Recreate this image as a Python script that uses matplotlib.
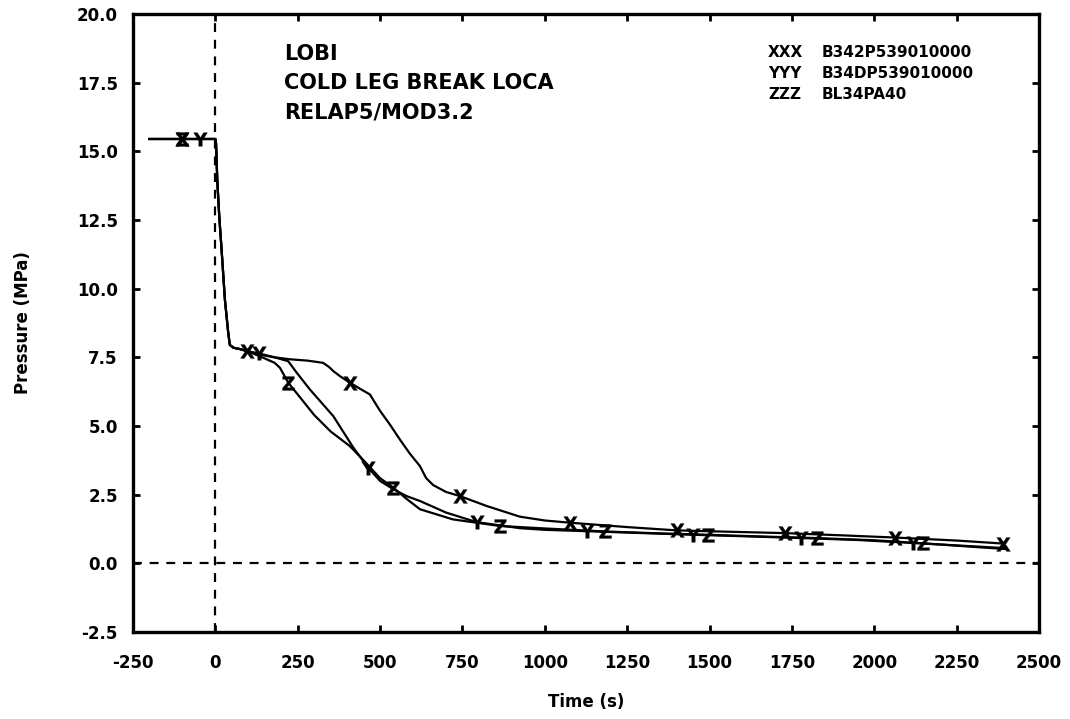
import numpy as np
import matplotlib
matplotlib.use('Agg')
import matplotlib.pyplot as plt

plt.rcParams['font.family'] = ['DejaVu Sans']
plt.rcParams['font.weight'] = 'bold'
plt.rcParams['axes.unicode_minus'] = False

# time (s) / pressure (MPa) for the three pressure signals
t_x = [-200, -102, 0, 2, 6, 12, 19, 29, 39, 44, 55, 75, 95, 133, 180, 226, 280, 327, 345, 358,
       380, 408, 440, 469, 500, 530, 560, 590, 621, 640, 661, 700, 742, 823, 924, 1000, 1076,
       1250, 1400, 1560, 1729, 1900, 2062, 2250, 2391]
p_x = [15.45, 15.45, 15.45, 15.3, 13.9, 12.6, 11.4, 9.6, 8.4, 7.95, 7.85, 7.8, 7.73, 7.6, 7.5,
       7.43, 7.38, 7.3, 7.15, 7.0, 6.8, 6.58, 6.35, 6.15, 5.55, 5.05, 4.51, 4.0, 3.54, 3.1, 2.85,
       2.6, 2.45, 2.09, 1.7, 1.56, 1.48, 1.32, 1.2, 1.15, 1.1, 1.02, 0.94, 0.83, 0.72]

t_y = [-200, -47, 0, 2, 6, 12, 19, 29, 39, 44, 55, 75, 95, 133, 180, 221, 247, 287, 358, 419,
       464, 500, 540, 580, 621, 700, 793, 924, 1000, 1127, 1300, 1450, 1620, 1779, 1950, 2118,
       2300, 2400]
p_y = [15.45, 15.45, 15.45, 15.3, 13.9, 12.6, 11.4, 9.6, 8.4, 7.95, 7.85, 7.8, 7.73, 7.64, 7.5,
       7.36, 6.94, 6.33, 5.36, 4.21, 3.48, 3.0, 2.7, 2.45, 2.27, 1.85, 1.5, 1.28, 1.22, 1.17,
       1.1, 1.04, 0.98, 0.92, 0.85, 0.74, 0.62, 0.55]

t_z = [-200, -102, 0, 2, 6, 12, 19, 29, 39, 44, 55, 75, 95, 133, 180, 196, 221, 260, 300, 350,
       408, 450, 500, 540, 580, 621, 721, 864, 1000, 1183, 1350, 1496, 1650, 1825, 2000, 2148,
       2300, 2400]
p_z = [15.45, 15.45, 15.45, 15.3, 13.9, 12.6, 11.4, 9.6, 8.4, 7.95, 7.85, 7.8, 7.73, 7.55, 7.3,
       7.12, 6.58, 6.0, 5.4, 4.8, 4.27, 3.75, 3.1, 2.76, 2.35, 1.97, 1.6, 1.36, 1.27, 1.16, 1.09,
       1.04, 0.98, 0.92, 0.84, 0.73, 0.6, 0.52]

# sample times carrying the identifying letter on each curve
mark_x = [-102, 95, 408, 742, 1076, 1400, 1729, 2062, 2391]
mark_y = [-47, 133, 464, 793, 1127, 1450, 1779, 2118]
mark_z = [-102, 221, 540, 864, 1183, 1496, 1825, 2148]

series = [
    ('XXX', 'B342P539010000', t_x, p_x, mark_x, r'$\mathsf{X}$'),
    ('YYY', 'B34DP539010000', t_y, p_y, mark_y, r'$\mathsf{Y}$'),
    ('ZZZ', 'BL34PA40', t_z, p_z, mark_z, r'$\mathsf{Z}$'),
]

xticks = [-250, 0, 250, 500, 750, 1000, 1250, 1500, 1750, 2000, 2250, 2500]
yticks = [-2.5, 0.0, 2.5, 5.0, 7.5, 10.0, 12.5, 15.0, 17.5, 20.0]

fig = plt.figure(figsize=(10.7, 7.19), dpi=100)
ax = fig.add_axes([0.1243, 0.121, 0.8467, 0.8595])

for code, name, t, p, marks, glyph in series:
    t = np.array(t, dtype=float)
    p = np.array(p, dtype=float)
    every = np.isin(t, marks)
    ax.plot(t, p, color='black', lw=1.6, marker=glyph, markersize=10,
            markevery=every, markeredgewidth=0.2, solid_joinstyle='round')

ax.axvline(0, color='black', lw=1.6, ls=(0, (4, 3.5)), zorder=1)
ax.axhline(0, color='black', lw=1.6, ls=(0, (4, 3.5)), zorder=1)

ax.set_xlim(-250, 2500)
ax.set_ylim(-2.5, 20.0)
ax.set_xticks(xticks)
ax.set_yticks(yticks)
ax.set_xticklabels([str(v) for v in xticks])
ax.set_yticklabels(['%.1f' % v for v in yticks])
ax.tick_params(direction='in', length=5, width=2, top=True, right=True,
               labelsize=12)
ax.tick_params(axis='x', pad=16)
ax.tick_params(axis='y', pad=11)
for s in ax.spines.values():
    s.set_linewidth(2.4)

ax.set_xlabel('Time (s)', fontsize=12, fontweight='bold')
ax.set_ylabel('Pressure (MPa)', fontsize=12, fontweight='bold')
ax.xaxis.set_label_coords(0.5, -0.098)
ax.yaxis.set_label_coords(-0.111, 0.5)

ax.text(0.1667, 0.935, 'LOBI', transform=ax.transAxes, fontsize=15, va='center')
ax.text(0.1667, 0.888, 'COLD LEG BREAK LOCA', transform=ax.transAxes, fontsize=15, va='center')
ax.text(0.1667, 0.841, 'RELAP5/MOD3.2', transform=ax.transAxes, fontsize=15, va='center')

for k, (code, name, *_rest) in enumerate(series):
    yy = 0.937 - k * 0.034
    ax.text(0.701, yy, code, transform=ax.transAxes, fontsize=11, va='center')
    ax.text(0.760, yy, name, transform=ax.transAxes, fontsize=11, va='center')

fig.savefig('out.png', dpi=100)
